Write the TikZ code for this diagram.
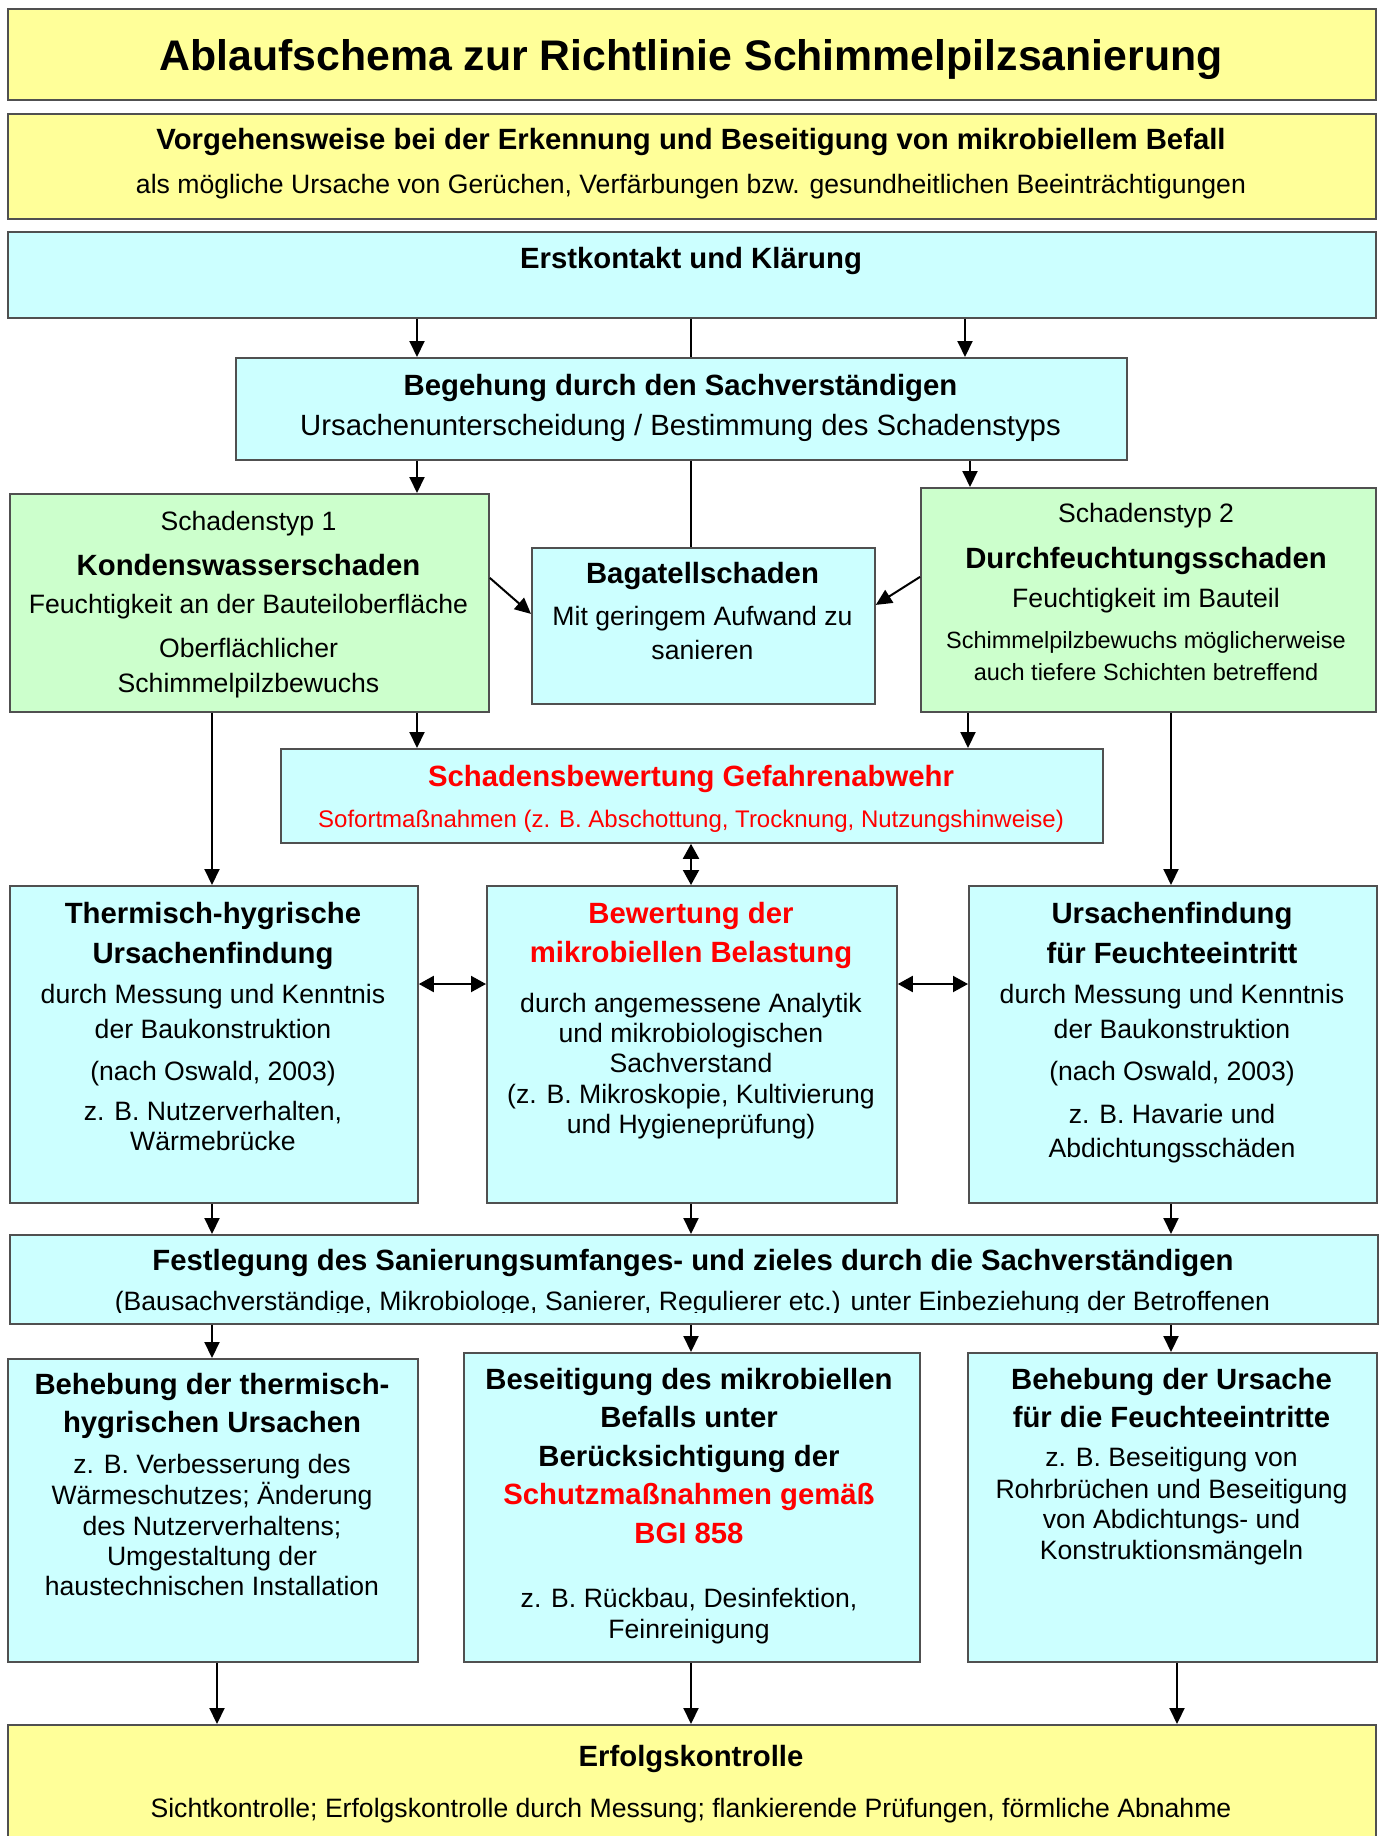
\documentclass[tikz,border=0pt]{standalone}
\usepackage{fontspec}
\setmainfont{Liberation Sans}
\usetikzlibrary{arrows.meta}
\definecolor{yel}{HTML}{FFFF99}
\definecolor{cya}{HTML}{CCFFFF}
\definecolor{grn}{HTML}{CCFFCC}
\definecolor{rd}{HTML}{FF0000}
\definecolor{bordc}{HTML}{505050}
\newcommand\tx[5]{\node[#4] (#1) at (#2,#3) {#5};}
\begin{document}
\begin{tikzpicture}[x=1pt,y=-1pt,
 box/.style={draw=bordc, line width=1.8pt, inner sep=0pt, anchor=north west},
 yb/.style={box, fill=yel}, cb/.style={box, fill=cya}, gb/.style={box, fill=grn},
 tt/.style={anchor=base, inner sep=0pt},
 fT/.style={tt, font=\fontsize{42.8}{50}\selectfont\bfseries},
 fB/.style={tt, font=\fontsize{29.3}{35}\selectfont\bfseries},
 fL/.style={tt, font=\fontsize{29.3}{35}\selectfont},
 fR/.style={tt, font=\fontsize{26.6}{32}\selectfont},
 fS/.style={tt, font=\fontsize{23.5}{28}\selectfont},
 fM/.style={tt, font=\fontsize{24}{29}\selectfont},
 rtxt/.style={text=rd},
 arr/.style={line width=2pt, -{Triangle[length=16pt,width=15pt]}},
 darr/.style={line width=2pt, {Triangle[length=15pt,width=16pt]}-{Triangle[length=15pt,width=16pt]}},
 ln/.style={line width=2pt}]
\useasboundingbox (0,0) rectangle (1379,1836);
\fill[white] (0,0) rectangle (1379,1836);
% boxes
\node[yb, minimum width=1368pt, minimum height=91pt] (title) at (7,8) {};
\node[yb, minimum width=1368pt, minimum height=105pt] (sub) at (7,113) {};
\node[cb, minimum width=1368pt, minimum height=86pt] (erst) at (7,231) {};
\node[cb, minimum width=891pt, minimum height=102pt] (beg) at (235,357) {};
\node[gb, minimum width=479pt, minimum height=218pt] (st1) at (9,493) {};
\node[cb, minimum width=343pt, minimum height=156pt] (bag) at (531,547) {};
\node[gb, minimum width=455pt, minimum height=224pt] (st2) at (920,487) {};
\node[cb, minimum width=822pt, minimum height=94pt] (sb) at (280,748) {};
\node[cb, minimum width=408pt, minimum height=317pt] (th) at (9,885) {};
\node[cb, minimum width=410pt, minimum height=317pt] (bw) at (486,885) {};
\node[cb, minimum width=408pt, minimum height=317pt] (uf) at (968,885) {};
\node[cb, minimum width=1368pt, minimum height=89pt] (fest) at (9,1234) {};
\node[cb, minimum width=410pt, minimum height=303pt] (bt) at (7,1358) {};
\node[cb, minimum width=456pt, minimum height=309pt] (bs) at (463,1352) {};
\node[cb, minimum width=409pt, minimum height=309pt] (bu) at (967,1352) {};
\node[yb, minimum width=1368pt, minimum height=136pt] (erf) at (7,1724) {};
% texts
\tx{tT}{691}{70.5}{fT}{Ablaufschema zur Richtlinie Schimmelpilzsanierung}
\tx{tS1}{691}{149}{fB}{Vorgehensweise bei der Erkennung und Beseitigung von mikrobiellem Befall}
\tx{tS2}{691}{193}{fR}{als mögliche Ursache von Gerüchen, Verfärbungen bzw. gesundheitlichen Beeinträchtigungen}
\tx{tE}{691}{268}{fB}{Erstkontakt und Klärung}
\tx{tB1}{680.5}{395}{fB}{Begehung durch den Sachverständigen}
\tx{tB2}{680.5}{435}{fL}{Ursachenunterscheidung / Bestimmung des Schadenstyps}
\tx{tK1}{248.5}{530}{fR}{Schadenstyp 1}
\tx{tK2}{248.5}{575}{fB}{Kondenswasserschaden}
\tx{tK3}{248.5}{613}{fR}{Feuchtigkeit an der Bauteiloberfläche}
\tx{tK4}{248.5}{657}{fR}{Oberflächlicher}
\tx{tK5}{248.5}{692}{fR}{Schimmelpilzbewuchs}
\tx{tG1}{702.5}{583}{fB}{Bagatellschaden}
\tx{tG2}{702.5}{625}{fR}{Mit geringem Aufwand zu}
\tx{tG3}{702.5}{659}{fR}{sanieren}
\tx{tD1}{1146}{522}{fR}{Schadenstyp 2}
\tx{tD2}{1146}{568}{fB}{Durchfeuchtungsschaden}
\tx{tD3}{1146}{607}{fR}{Feuchtigkeit im Bauteil}
\tx{tD4}{1146}{648}{fS}{Schimmelpilzbewuchs möglicherweise}
\tx{tD5}{1146}{680}{fS}{auch tiefere Schichten betreffend}
\tx{tSB1}{691}{786}{fB,rtxt}{Schadensbewertung Gefahrenabwehr}
\tx{tSB2}{691}{827}{fM,rtxt}{Sofortmaßnahmen (z. B. Abschottung, Trocknung, Nutzungshinweise)}
\tx{tH1}{213}{923}{fB}{Thermisch-hygrische}
\tx{tH2}{213}{963}{fB}{Ursachenfindung}
\tx{tH3}{213}{1003}{fR}{durch Messung und Kenntnis}
\tx{tH4}{213}{1038}{fR}{der Baukonstruktion}
\tx{tH5}{213}{1080}{fR}{(nach Oswald, 2003)}
\tx{tH6}{213}{1120}{fR}{z. B. Nutzerverhalten,}
\tx{tH7}{213}{1150}{fR}{Wärmebrücke}
\tx{tW1}{691}{923}{fB,rtxt}{Bewertung der}
\tx{tW2}{691}{962}{fB,rtxt}{mikrobiellen Belastung}
\tx{tW3}{691}{1012}{fR}{durch angemessene Analytik}
\tx{tW4}{691}{1042}{fR}{und mikrobiologischen}
\tx{tW5}{691}{1072}{fR}{Sachverstand}
\tx{tW6}{691}{1103}{fR}{(z. B. Mikroskopie, Kultivierung}
\tx{tW7}{691}{1133}{fR}{und Hygieneprüfung)}
\tx{tU1}{1172}{923}{fB}{Ursachenfindung}
\tx{tU2}{1172}{963}{fB}{für Feuchteeintritt}
\tx{tU3}{1172}{1003}{fR}{durch Messung und Kenntnis}
\tx{tU4}{1172}{1038}{fR}{der Baukonstruktion}
\tx{tU5}{1172}{1080}{fR}{(nach Oswald, 2003)}
\tx{tU6}{1172}{1123}{fR}{z. B. Havarie und}
\tx{tU7}{1172}{1157}{fR}{Abdichtungsschäden}
\tx{tF1}{693}{1270}{fB}{Festlegung des Sanierungsumfanges- und zieles durch die Sachverständigen}
\begin{scope}
\clip (0,1280) rectangle (1379,1312.5);
\tx{tF2}{692.5}{1310}{fR}{(Bausachverständige, Mikrobiologe, Sanierer, Regulierer etc.) unter Einbeziehung der Betroffenen}
\end{scope}
\tx{tL1}{212}{1394}{fB}{Behebung der thermisch-}
\tx{tL2}{212}{1432}{fB}{hygrischen Ursachen}
\tx{tL3}{212}{1473}{fR}{z. B. Verbesserung des}
\tx{tL4}{212}{1504}{fR}{Wärmeschutzes; Änderung}
\tx{tL5}{212}{1535}{fR}{des Nutzerverhaltens;}
\tx{tL6}{212}{1565}{fR}{Umgestaltung der}
\tx{tL7}{212}{1595}{fR}{haustechnischen Installation}
\tx{tM1}{689}{1389}{fB}{Beseitigung des mikrobiellen}
\tx{tM2}{689}{1427}{fB}{Befalls unter}
\tx{tM3}{689}{1466}{fB}{Berücksichtigung der}
\tx{tM4}{689}{1504}{fB,rtxt}{Schutzmaßnahmen gemäß}
\tx{tM5}{689}{1543}{fB,rtxt}{BGI 858}
\tx{tM6}{689}{1607}{fR}{z. B. Rückbau, Desinfektion,}
\tx{tM7}{689}{1638}{fR}{Feinreinigung}
\tx{tR1}{1171.5}{1389}{fB}{Behebung der Ursache}
\tx{tR2}{1171.5}{1427}{fB}{für die Feuchteeintritte}
\tx{tR3}{1171.5}{1466}{fR}{z. B. Beseitigung von}
\tx{tR4}{1171.5}{1498}{fR}{Rohrbrüchen und Beseitigung}
\tx{tR5}{1171.5}{1528}{fR}{von Abdichtungs- und}
\tx{tR6}{1171.5}{1559}{fR}{Konstruktionsmängeln}
\tx{tEK1}{691}{1766}{fB}{Erfolgskontrolle}
\tx{tEK2}{691}{1817}{fR}{Sichtkontrolle; Erfolgskontrolle durch Messung; flankierende Prüfungen, förmliche Abnahme}
% helper coordinates
\coordinate (xA) at (417,0);
\coordinate (xB) at (965,0);
\coordinate (xC) at (970,0);
\coordinate (xD) at (968,0);
\coordinate (xM) at (691,0);
\coordinate (xL) at (212,0);
\coordinate (xR) at (1171,0);
\coordinate (xL2) at (217,0);
\coordinate (xR2) at (1177,0);
\coordinate (yH) at (0,984);
% connectors
\draw[arr] (erst.south -| xA) -- (beg.north -| xA);
\draw[ln] (erst.south -| xM) -- (beg.north -| xM);
\draw[arr] (erst.south -| xB) -- (beg.north -| xB);
\draw[arr] (beg.south -| xA) -- (st1.north -| xA);
\draw[ln] (beg.south -| xM) -- (bag.north -| xM);
\draw[arr] (beg.south -| xC) -- (st2.north -| xC);
\draw[arr] ([yshift=25pt]st1.east) -- ([yshift=12pt]bag.west);
\draw[arr] ([yshift=23pt]st2.west) -- ([yshift=21pt]bag.east);
\draw[arr] (st1.south -| xA) -- (sb.north -| xA);
\draw[arr] (st1.south -| xL) -- (th.north -| xL);
\draw[arr] (st2.south -| xD) -- (sb.north -| xD);
\draw[arr] (st2.south -| xR) -- (uf.north -| xR);
\draw[darr] (sb.south -| xM) -- (bw.north -| xM);
\draw[darr] (th.east |- yH) -- (bw.west |- yH);
\draw[darr] (bw.east |- yH) -- (uf.west |- yH);
\draw[arr] (th.south -| xL) -- (fest.north -| xL);
\draw[arr] (bw.south -| xM) -- (fest.north -| xM);
\draw[arr] (uf.south -| xR) -- (fest.north -| xR);
\draw[arr] (fest.south -| xL) -- (bt.north -| xL);
\draw[arr] (fest.south -| xM) -- (bs.north -| xM);
\draw[arr] (fest.south -| xR) -- (bu.north -| xR);
\draw[arr] (bt.south -| xL2) -- (erf.north -| xL2);
\draw[arr] (bs.south -| xM) -- (erf.north -| xM);
\draw[arr] (bu.south -| xR2) -- (erf.north -| xR2);
\end{tikzpicture}
\end{document}
